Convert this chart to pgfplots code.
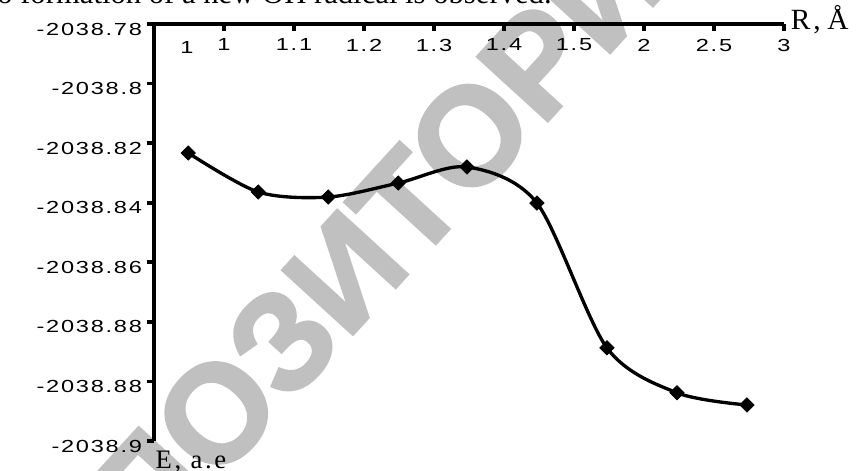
\documentclass[border=0pt]{standalone}
\usepackage{fontspec}
\setmainfont{Liberation Serif}
\newfontfamily\tickfont{Liberation Sans}[FakeStretch=1.35, LetterSpace=10]
\newfontfamily\wmfont{Liberation Sans Bold}[FakeBold=2]
\newfontfamily\labfont{Liberation Serif}[LetterSpace=10]
\usepackage{pgfplots}
\pgfplotsset{compat=1.18}
\definecolor{wm}{RGB}{192,192,192}
\begin{document}
\begin{tikzpicture}
\useasboundingbox (0,0) rectangle (642.75pt,-353.25pt);
% watermark
\node[rotate=47.6, text=wm, inner sep=0, font=\wmfont\fontsize{104}{104}\selectfont] at (251.25pt,-196.5pt) {РЕПОЗИТОРИЙ};
% cut-off line of text at the top
\node[anchor=base west, inner sep=0, font=\fontsize{23}{23}\selectfont] at (15pt,-2.25pt) {\llap{to }formation of a new OH radical is observed.};
\begin{axis}[
  at={(115.5pt,-330.75pt)}, anchor=south west,
  scale only axis, width=472.5pt, height=312.75pt,
  xmin=0, xmax=9, ymin=-0.92, ymax=-0.78,
  clip=false,
  axis x line=top, axis y line=left,
  axis line style={-},
  every outer x axis line/.append style={line width=2.8pt},
  every outer y axis line/.append style={line width=3.6pt},
  xtick={1,2,3,4,5,6,7,8,9},
  xticklabels={1,1.1,1.2,1.3,1.4,1.5,2,2.5,3},
  ytick={-0.78,-0.8,-0.82,-0.84,-0.86,-0.88,-0.9,-0.92},
  yticklabels={-2038.78,-2038.8,-2038.82,-2038.84,-2038.86,-2038.88,-2038.88,-2038.9},
  xtick align=inside, ytick align=outside,
  major tick length=5.5pt,
  major tick style={line width=2.8pt, black},
  tick label style={font=\tickfont\fontsize{13.1}{13.1}\selectfont},
  xticklabel style={anchor=north, yshift=-7.6pt},
  yticklabel style={anchor=east, yshift=-3.75pt},
  extra x ticks={0.47}, extra x tick labels={1},
  extra x tick style={major tick style={draw=none}, xticklabel style={yshift=-2.25pt}},
  xlabel={R,\hspace{5pt}Å}, ylabel={E, a.e},
  every axis x label/.style={at={(rel axis cs:1,1)}, anchor=base west, inner sep=0, xshift=5pt, yshift=-3.75pt, font=\labfont\fontsize{22}{22}\selectfont},
  every axis y label/.style={at={(rel axis cs:0,0)}, anchor=base west, inner sep=0, xshift=1pt, yshift=-20.25pt, font=\labfont\fontsize{20}{20}\selectfont},
]
\addplot[black, line width=2.5pt, smooth, tension=0.5, mark=square*, mark size=3.8pt, mark options={rotate=45, solid, line width=0.5pt}] coordinates {
(0.49,-0.8233)
(1.49,-0.8364)
(2.49,-0.8381)
(3.49,-0.8334)
(4.47,-0.8280)
(5.47,-0.8401)
(6.47,-0.8887)
(7.47,-0.9038)
(8.47,-0.9079)
};
\end{axis}
\end{tikzpicture}
\end{document}
